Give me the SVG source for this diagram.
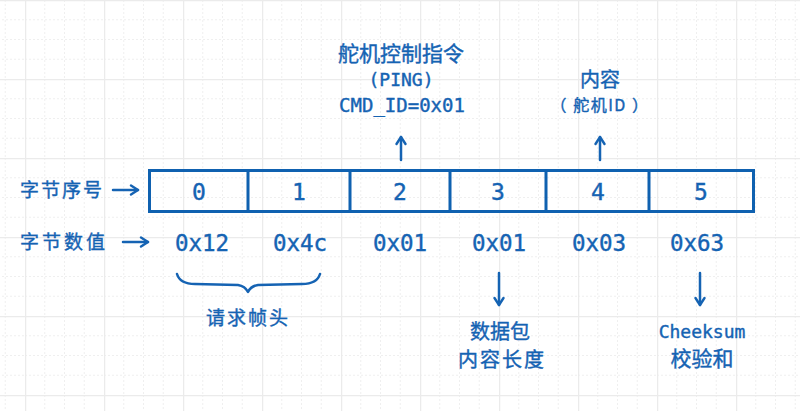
<svg xmlns="http://www.w3.org/2000/svg" width="800" height="411" viewBox="0 0 800 411">
<style>
.t{fill:#1563b3;stroke:#1563b3;stroke-width:0.4;font-family:"Noto Sans CJK SC","DejaVu Sans",sans-serif;text-anchor:middle}
.m{fill:#1563b3;stroke:#1563b3;stroke-width:0.4;font-family:"DejaVu Sans Mono","Liberation Mono",monospace;text-anchor:middle}
.ln{stroke:#1563b3;stroke-width:2.5;fill:none;stroke-linecap:round;stroke-linejoin:round}
.box{stroke:#0f61b0;stroke-width:3;fill:none}
</style>
<defs>
<pattern id="grid" x="25" y="0" width="79" height="79" patternUnits="userSpaceOnUse">
<g stroke="#efefef" stroke-width="1" stroke-dasharray="2,2" fill="none">
<path d="M19.75,0V79M39.5,0V79M59.25,0V79M0,19.75H79M0,39.5H79M0,59.25H79"/>
</g>
<path d="M0.5,0V79M0,0.5H79" stroke="#ebebeb" stroke-width="1.5" fill="none"/>
</pattern>
<marker id="ah" viewBox="0 0 12 12" refX="10" refY="6" markerWidth="12" markerHeight="12" markerUnits="userSpaceOnUse" orient="auto">
<path d="M3,1.5L10,6L3,10.5" fill="none" stroke="#1563b3" stroke-width="2.4" stroke-linecap="round" stroke-linejoin="round"/>
</marker>
</defs>
<rect width="800" height="411" fill="#fff"/>
<rect width="800" height="411" fill="url(#grid)"/>

<g id="row-labels">
<text class="t" x="62" y="197" font-size="19" letter-spacing="2">字节序号</text>
<text class="t" x="64" y="249" font-size="19" letter-spacing="3">字节数值</text>
</g>

<g id="byte-table">
<rect class="box" x="149.5" y="170.5" width="604" height="41"/>
<path class="box" d="M248,171V211M350,171V211M450,171V211M546,171V211M649,171V211"/>
</g>
<g id="byte-0"><text class="m" x="199" y="200" font-size="23">0</text><text class="m" x="202" y="251" font-size="22.5">0x12</text></g>
<g id="byte-1"><text class="m" x="299" y="200" font-size="23">1</text><text class="m" x="300" y="251" font-size="22.5">0x4c</text></g>
<g id="byte-2"><text class="m" x="400" y="200" font-size="23">2</text><text class="m" x="400" y="251" font-size="22.5">0x01</text></g>
<g id="byte-3"><text class="m" x="498" y="200" font-size="23">3</text><text class="m" x="499" y="251" font-size="22.5">0x01</text></g>
<g id="byte-4"><text class="m" x="598" y="200" font-size="23">4</text><text class="m" x="599" y="251" font-size="22.5">0x03</text></g>
<g id="byte-5"><text class="m" x="701" y="200" font-size="23">5</text><text class="m" x="697" y="251" font-size="22.5">0x63</text></g>

<g id="cmd-label">
<text class="t" x="401" y="61" font-size="21">舵机控制指令</text>
<text class="m" x="401" y="86" font-size="18">(PING)</text>
<text class="m" x="402" y="112" font-size="19">CMD_ID=0x01</text>
</g>
<g id="content-label">
<text class="t" x="600" y="87" font-size="20">内容</text>
<text class="t" x="600" y="111" font-size="16" letter-spacing="1.5">（ 舵机ID ）</text>
</g>
<g id="header-label">
<text class="t" x="248" y="325" font-size="19" letter-spacing="2">请求帧头</text>
</g>
<g id="length-label">
<text class="t" x="500" y="339" font-size="20">数据包</text>
<text class="t" x="502" y="367" font-size="20" letter-spacing="2">内容长度</text>
</g>
<g id="checksum-label">
<text class="m" x="702" y="338" font-size="18">Cheeksum</text>
<text class="t" x="702" y="366" font-size="21">校验和</text>
</g>

<g id="connectors">
<path class="ln" d="M113,190H138" marker-end="url(#ah)"/>
<path class="ln" d="M123,242H148" marker-end="url(#ah)"/>
<path class="ln" d="M401,160V137" marker-end="url(#ah)"/>
<path class="ln" d="M600,160V137" marker-end="url(#ah)"/>
<path class="ln" d="M499,273V305" marker-end="url(#ah)"/>
<path class="ln" d="M700,273V305" marker-end="url(#ah)"/>
<path class="ln" d="M177,274Q180,284 195,284L238,285Q245,286 248,292Q251,286 258,285L302,284Q317,284 320,274"/>
</g>
</svg>
